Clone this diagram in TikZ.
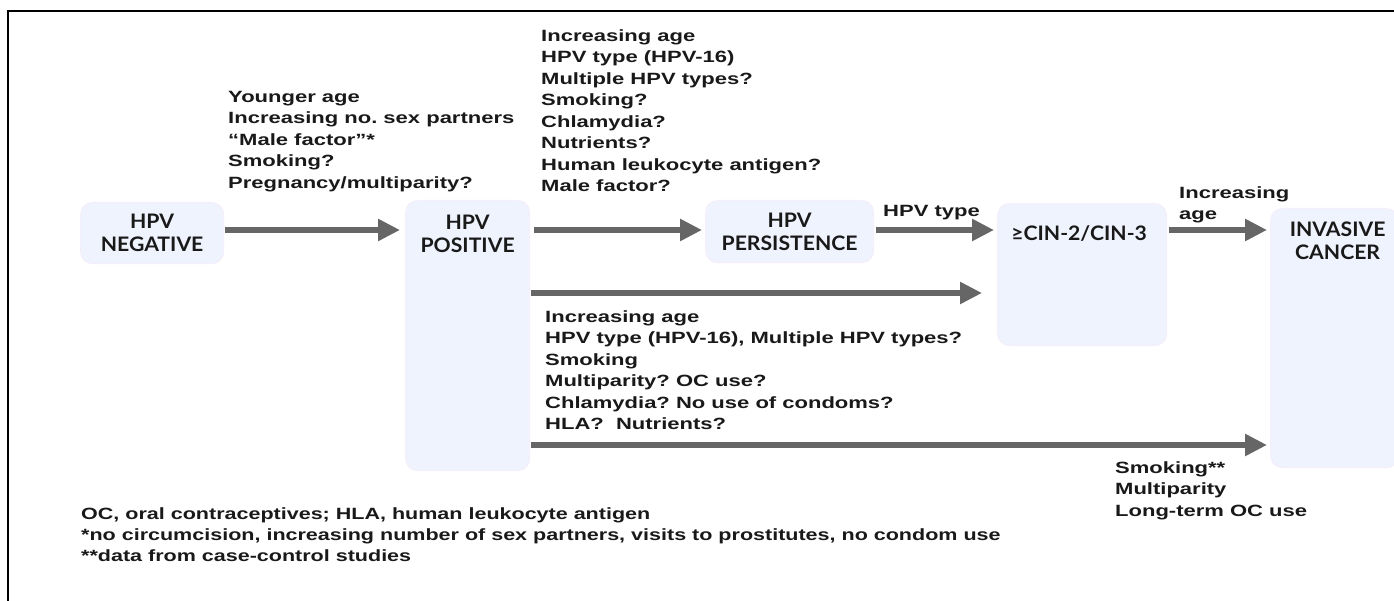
\documentclass[tikz,border=0pt]{standalone}
\usepackage{fontspec}
\usepackage{xcolor}
\usetikzlibrary{arrows.meta,positioning}
\newfontfamily\lblfont[FakeStretch=1.35]{Liberation Sans}
\newfontfamily\notefont[FakeStretch=1.32]{Liberation Sans}
\newfontfamily\boxfont[FakeStretch=1.06]{Lato}
\definecolor{arrowgray}{RGB}{102,102,102}
\definecolor{boxfill}{RGB}{239,243,253}
\definecolor{boxedge}{RGB}{244,239,250}
\definecolor{inkblack}{RGB}{25,25,25}
\frenchspacing

\tikzset{
  stage/.style={draw=boxedge,line width=1.2pt,fill=boxfill,rounded corners=12pt,inner sep=0pt,anchor=north west},
  stagetxt/.style={font={\boxfont\bfseries\fontsize{20}{23}\selectfont},align=center,inner sep=0pt,text=inkblack},
  factors/.style={font={\lblfont\bfseries\fontsize{16.3}{21.5}\selectfont},align=left,inner sep=0pt,anchor=north west,text=inkblack},
  notes/.style={font={\notefont\bfseries\fontsize{16.3}{21}\selectfont},align=left,inner sep=0pt,anchor=north west,text=inkblack},
  flow/.style={->,line width=6.5pt,arrowgray,shorten <=2pt,shorten >=3pt}
}

\begin{document}
\begin{tikzpicture}[x=1pt,y=-1pt,>={Triangle[length=22pt,width=21pt]}]
  \useasboundingbox (0,0) rectangle (1394,601);
  \draw[line width=2pt] (8,601) -- (8,11) -- (1394,11);
  % stages
  \node[stage,minimum width=143pt,minimum height=61pt] (neg) at (80,202) {};
  \node[stage,minimum width=124pt,minimum height=270pt] (pos) at (405,200) {};
  \node[stage,minimum width=168pt,minimum height=62pt] (pers) at (705,200) {};
  \node[stage,minimum width=169pt,minimum height=142pt] (cin) at (997,203) {};
  \node[stage,minimum width=128pt,minimum height=259pt] (inv) at (1270,208) {};
  \node[stagetxt] (negtxt) at (neg.center) {HPV\\NEGATIVE};
  \node[stagetxt,anchor=north] (postxt) at ([yshift=-15pt]pos.north) {HPV\\POSITIVE};
  \node[stagetxt] (perstxt) at (pers.center) {HPV\\PERSISTENCE};
  \node[stagetxt,anchor=north] (cintxt) at ([xshift=-3pt,yshift=-22pt]cin.north) {≥CIN-2/CIN-3};
  \node[stagetxt,anchor=north] (invtxt) at ([xshift=3pt,yshift=-14pt]inv.north) {INVASIVE\\CANCER};
  % arrow rows
  \coordinate (top) at (0,230);
  \coordinate (mid) at (0,293);
  \coordinate (low) at (0,445);
  \draw[flow,shorten <=1pt,shorten >=5pt] (neg.east |- top) -- (pos.west |- top);
  \draw[flow,shorten <=4pt] (pos.east |- top) -- (pers.west |- top);
  \draw[flow] (pers.east |- top) -- (cin.west |- top);
  \draw[flow] (cin.east |- top) -- (inv.west |- top);
  \draw[flow,shorten <=1pt,shorten >=15pt] (pos.east |- mid) -- (cin.west |- mid);
  \draw[flow,shorten <=1pt] (pos.east |- low) -- (inv.west |- low);
  % factors
  \node[factors] (acquire) at (228,91) {Younger age\\Increasing no. sex partners\\“Male factor”*\\Smoking?\\Pregnancy/multiparity?};
  \node[factors] (persist) at (541,29) {Increasing age\\HPV type (HPV-16)\\Multiple HPV types?\\Smoking?\\Chlamydia?\\Nutrients?\\Human leukocyte antigen?\\Male factor?};
  \node[factors] (progress) at (883,205) {HPV type};
  \node[factors] (invade) at (1179,186) {Increasing\\age};
  \node[factors] (direct) at (545,310) {Increasing age\\HPV type (HPV-16), Multiple HPV types?\\Smoking\\Multiparity? OC use?\\Chlamydia? No use of condoms?\\HLA?~ Nutrients?};
  \node[factors] (casectl) at (1115,461) {Smoking**\\Multiparity\\Long-term OC use};
  % footnotes
  \node[notes] (legend) at (81,507) {OC, oral contraceptives; HLA, human leukocyte antigen\\*no circumcision, increasing number of sex partners, visits to prostitutes, no condom use\\**data from case-control studies};
\end{tikzpicture}
\end{document}
